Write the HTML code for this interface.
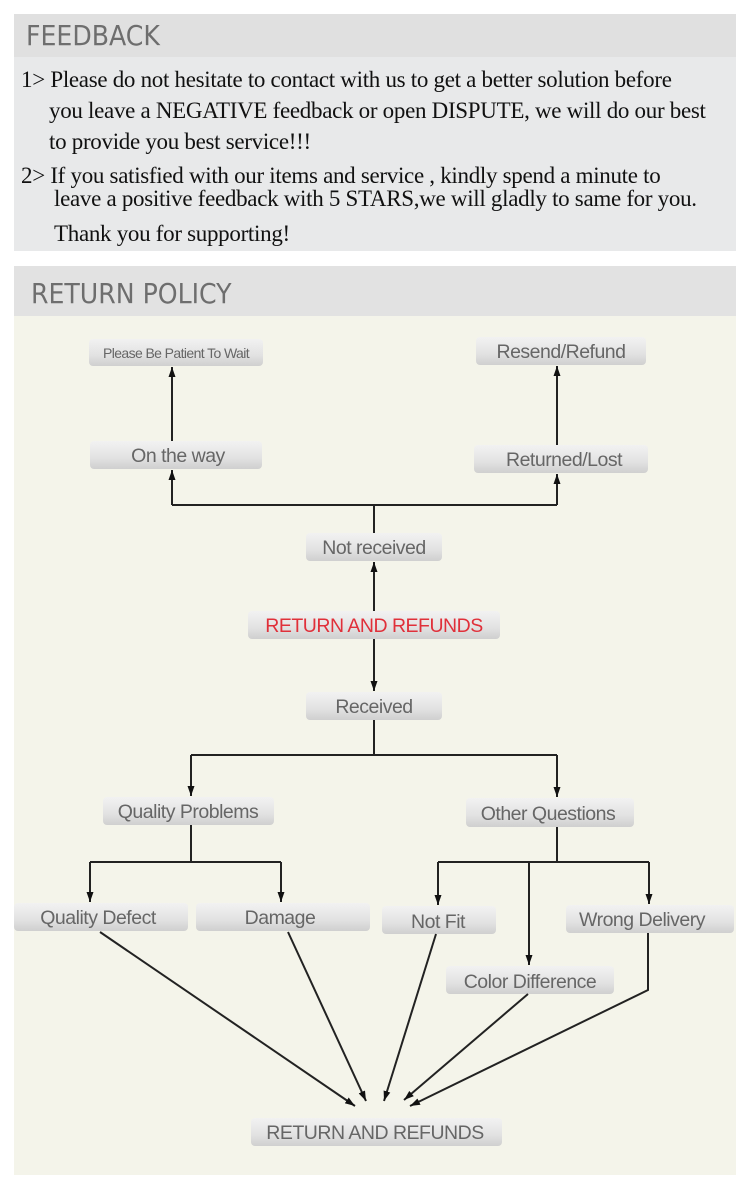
<!DOCTYPE html>
<html><head><meta charset="utf-8">
<style>
html,body{margin:0;padding:0;background:#fff;}
body{width:750px;height:1189px;position:relative;overflow:hidden;}
.fb{position:absolute;left:14px;top:14px;width:722px;height:237px;background:#e8e9ea;}
.fbh{position:absolute;left:0;top:0;width:722px;height:43px;background:#e0e0e0;}
.h{position:absolute;font-family:"DejaVu Sans Condensed","Liberation Sans Narrow","Liberation Sans",sans-serif;color:#6e6e6e;font-size:28px;}
.t{position:absolute;font-family:"Liberation Serif",serif;font-size:23px;color:#111;white-space:nowrap;letter-spacing:-0.3px;}
.rp{position:absolute;left:14px;top:266px;width:722px;height:909px;background:#f4f4ea;}
.rph{position:absolute;left:0;top:0;width:722px;height:50px;background:#e2e2e2;}
</style></head><body>
<div class="fb">
  <div class="fbh"></div>
  <div class="h" style="left:12px;top:5px;">FEEDBACK</div>
  <div class="t" style="left:7px;top:53px;">1&gt; Please do not hesitate to contact with us to get a better solution before</div>
  <div class="t" style="left:35px;top:84px;">you leave a NEGATIVE feedback or open DISPUTE, we will do our best</div>
  <div class="t" style="left:35px;top:115px;">to provide you best service!!!</div>
  <div class="t" style="left:7px;top:149px;">2&gt; If you satisfied with our items and service , kindly spend a minute to</div>
  <div class="t" style="left:40px;top:172px;">leave a positive feedback with 5 STARS,we will gladly to same for you.</div>
  <div class="t" style="left:40px;top:207px;">Thank you for supporting!</div>
</div>
<div class="rp">
  <div class="rph"></div>
  <div class="h" style="left:17px;top:11px;">RETURN POLICY</div>
</div>
<svg style="position:absolute;left:0;top:0" width="750" height="1189" font-family="Liberation Sans, Arial, sans-serif">
<defs>
<linearGradient id="g" x1="0" y1="0" x2="0" y2="1">
<stop offset="0" stop-color="#f2f2f2"/><stop offset="0.6" stop-color="#e2e2e2"/><stop offset="1" stop-color="#cfcfcf"/></linearGradient>
<marker id="a" viewBox="0 0 10 10" refX="10" refY="5" markerWidth="10" markerHeight="10" markerUnits="userSpaceOnUse" orient="auto"><path d="M0,1.5 L10,5 L0,8.5 Z" fill="#111"/></marker>
</defs>
<g fill="url(#g)">
<rect x="89" y="339" width="174" height="27" rx="4"/>
<rect x="476" y="337" width="170" height="28" rx="4"/>
<rect x="90" y="441" width="172" height="28" rx="4"/>
<rect x="474" y="445" width="174" height="28" rx="4"/>
<rect x="306" y="533" width="136" height="28" rx="4"/>
<rect x="248" y="611" width="252" height="28" rx="4"/>
<rect x="306" y="692" width="136" height="28" rx="4"/>
<rect x="103" y="797" width="171" height="28" rx="4"/>
<rect x="466" y="798" width="168" height="29" rx="4"/>
<rect x="14" y="903" width="174" height="28" rx="4"/>
<rect x="196" y="903" width="174" height="28" rx="4"/>
<rect x="382" y="906" width="114" height="28" rx="4"/>
<rect x="566" y="905" width="168" height="28" rx="4"/>
<rect x="446" y="966" width="168" height="28" rx="4"/>
<rect x="251" y="1118" width="251" height="28" rx="4"/>
</g>
<g fill="#666" font-size="19.5" text-anchor="middle" letter-spacing="-0.5">
<text x="176" y="358" font-size="14" letter-spacing="-0.6">Please Be Patient To Wait</text>
<text x="561" y="358">Resend/Refund</text>
<text x="178" y="462">On the way</text>
<text x="564" y="466">Returned/Lost</text>
<text x="374" y="554">Not received</text>
<text x="374" y="632" fill="#e0303a">RETURN AND REFUNDS</text>
<text x="374" y="713">Received</text>
<text x="188" y="818">Quality Problems</text>
<text x="548" y="820">Other Questions</text>
<text x="98" y="924">Quality Defect</text>
<text x="280" y="924">Damage</text>
<text x="438" y="928">Not Fit</text>
<text x="642" y="926">Wrong Delivery</text>
<text x="530" y="988">Color Difference</text>
<text x="375" y="1139">RETURN AND REFUNDS</text>
</g>
<g stroke="#222" stroke-width="2" fill="none">
<path d="M374 533 V505 M172 505 H557"/>
<path d="M172 505 V470" marker-end="url(#a)"/>
<path d="M557 505 V474" marker-end="url(#a)"/>
<path d="M172 441 V367" marker-end="url(#a)"/>
<path d="M557 445 V366" marker-end="url(#a)"/>
<path d="M374 611 V562" marker-end="url(#a)"/>
<path d="M374 639 V691" marker-end="url(#a)"/>
<path d="M374 720 V755 M191 755 H557"/>
<path d="M191 755 V796" marker-end="url(#a)"/>
<path d="M557 755 V797" marker-end="url(#a)"/>
<path d="M191 825 V862 M90 862 H281"/>
<path d="M90 862 V902" marker-end="url(#a)"/>
<path d="M281 862 V902" marker-end="url(#a)"/>
<path d="M557 827 V862 M438 862 H649"/>
<path d="M438 862 V905" marker-end="url(#a)"/>
<path d="M649 862 V904" marker-end="url(#a)"/>
<path d="M529 862 V965" marker-end="url(#a)"/>
<path d="M100 932 L355 1106" marker-end="url(#a)"/>
<path d="M288 932 L366 1101" marker-end="url(#a)"/>
<path d="M436 934 L384 1101" marker-end="url(#a)"/>
<path d="M528 994 L404 1100" marker-end="url(#a)"/>
<path d="M648 933 V990 L410 1106" marker-end="url(#a)"/>
</g>
</svg>
</body></html>
